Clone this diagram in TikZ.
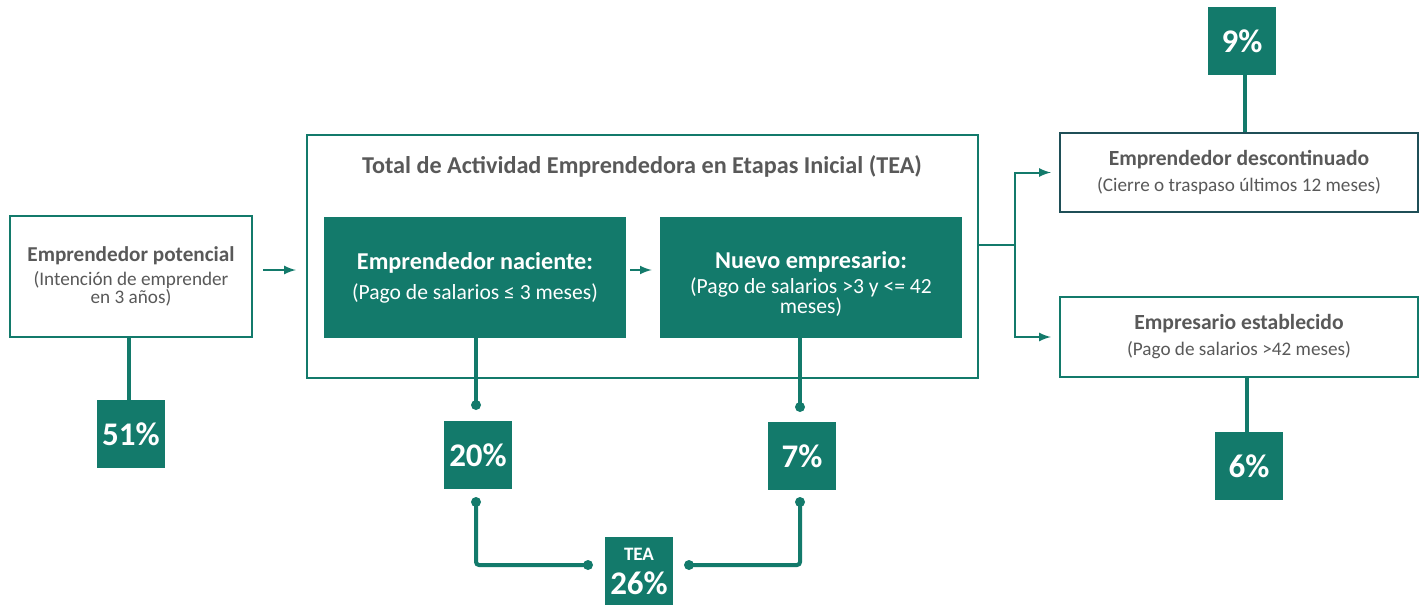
\documentclass[tikz,border=0pt]{standalone}
\usepackage{fontspec}
\setmainfont{Carlito}
\usetikzlibrary{calc}

\definecolor{gemteal}{HTML}{137A6B}
\definecolor{gemgray}{HTML}{595959}
\definecolor{gemdark}{HTML}{1F4F57}

\begin{document}
\begin{tikzpicture}[> = latex, x = 0.5pt, y = -0.5pt,
	outline/.style = {draw = gemteal, line width = 1.2pt, fill = white, text = gemgray, align = center, inner sep = 0pt,
		font = \fontsize{9.6}{9}\selectfont},
	stage/.style = {fill = gemteal, text = white, align = center, inner sep = 0pt,
		minimum width = 151pt, minimum height = 60.5pt, font = \fontsize{10.8}{10}\selectfont},
	share/.style = {fill = gemteal, text = white, align = center, inner sep = 0pt, minimum size = 34pt,
		font = \bfseries\fontsize{16.5}{18}\selectfont},
	link/.style = {draw = gemteal, line width = 2pt, rounded corners = 1.5pt},
	flow/.style = {draw = gemteal, line width = 1pt, ->},
	dot/.style = {fill = gemteal}
	]

	\useasboundingbox (0, 0) rectangle (1427, 605);

	% Boxes
	
	\node [outline, minimum width = 121pt, minimum height = 60.5pt] (pot) at (131, 276.5)
		{{\bfseries\fontsize{10.6}{12}\selectfont Emprendedor potencial}\\[3pt](Intención de emprender\\en 3 años)};
	\node [outline, minimum width = 335.5pt, minimum height = 121.5pt] (tea) at (642.5, 256.5) {};
	\node [text = gemgray, font = \bfseries\fontsize{12.1}{13}\selectfont] (teatitle) at (642, 166)
		{Total de Actividad Emprendedora en Etapas Inicial (TEA)};
	\node [stage] (nac) at (475, 277.5)
		{{\bfseries\fontsize{12.1}{13}\selectfont Emprendedor naciente:}\\[5pt](Pago de salarios ≤ 3 meses)};
	\node [stage] (nue) at (811, 277.5) {};
	\node [stage, fill = none, minimum height = 0pt] (nuetext) at (811, 284)
		{{\bfseries\fontsize{12.1}{13}\selectfont Nuevo empresario:}\\[2.5pt](Pago de salarios >3 y <= 42\\meses)};
	\node [outline, draw = gemdark, minimum width = 179pt, minimum height = 39.5pt] (desc) at (1239, 172.5)
		{{\bfseries\fontsize{10.8}{12}\selectfont Emprendedor descontinuado}\\[4pt](Cierre o traspaso últimos 12 meses)};
	\node [outline, minimum width = 179pt, minimum height = 40pt] (est) at (1239, 337)
		{{\bfseries\fontsize{10.8}{12}\selectfont Empresario establecido}\\[4pt](Pago de salarios >42 meses)};
	
	% Shares
	
	\node [share] (p51) at (131, 434) {51\%};
	\node [share] (p20) at (478, 455) {20\%};
	\node [share] (p7) at (802, 456) {7\%};
	\node [share] (ptea) at (639, 571) {{\fontsize{9.5}{10}\selectfont TEA}\\[-1pt]26\%};
	\node [share] (p9) at (1242, 41) {9\%};
	\node [share] (p6) at (1249, 466) {6\%};
	
	% Flow arrows
	
	\draw [flow, shorten < = 5pt, shorten > = 5pt] (pot.east |- 0, 270) -- (tea.west |- 0, 270);
	\draw [flow, shorten < = 2pt, shorten > = 4pt] (nac.east |- 0, 270) -- (nue.west |- 0, 270);
	\coordinate (fork) at (1015, 245);
	\draw [flow, shorten > = 4pt] (tea.east |- fork) -- (fork) |- (desc.west);
	\draw [flow, shorten > = 4pt] (fork) |- (est.west);
	
	% Links to shares
	
	\draw [link] (pot.south -| 129, 0) -- (p51.north -| 129, 0);
	\draw [link] (p9.south -| 1245, 0) -- (desc.north -| 1245, 0);
	\draw [link] (est.south -| 1247, 0) -- (p6.north -| 1247, 0);
	
	\coordinate (c20a) at (476, 405);
	\coordinate (c20b) at (476, 502);
	\coordinate (c7a) at (800, 407);
	\coordinate (c7b) at (800, 502);
	\coordinate (cteal) at (588, 565);
	\coordinate (ctear) at (689, 565);
	
	\draw [link] (nac.south -| c20a) -- (c20a);
	\draw [link] (nue.south -| c7a) -- (c7a);
	\draw [link] (c20b) |- (cteal);
	\draw [link] (c7b) |- (ctear);
	
	\foreach \c in {c20a, c20b, c7a, c7b, cteal, ctear}
		\fill [dot] (\c) circle (5);

\end{tikzpicture}
\end{document}
